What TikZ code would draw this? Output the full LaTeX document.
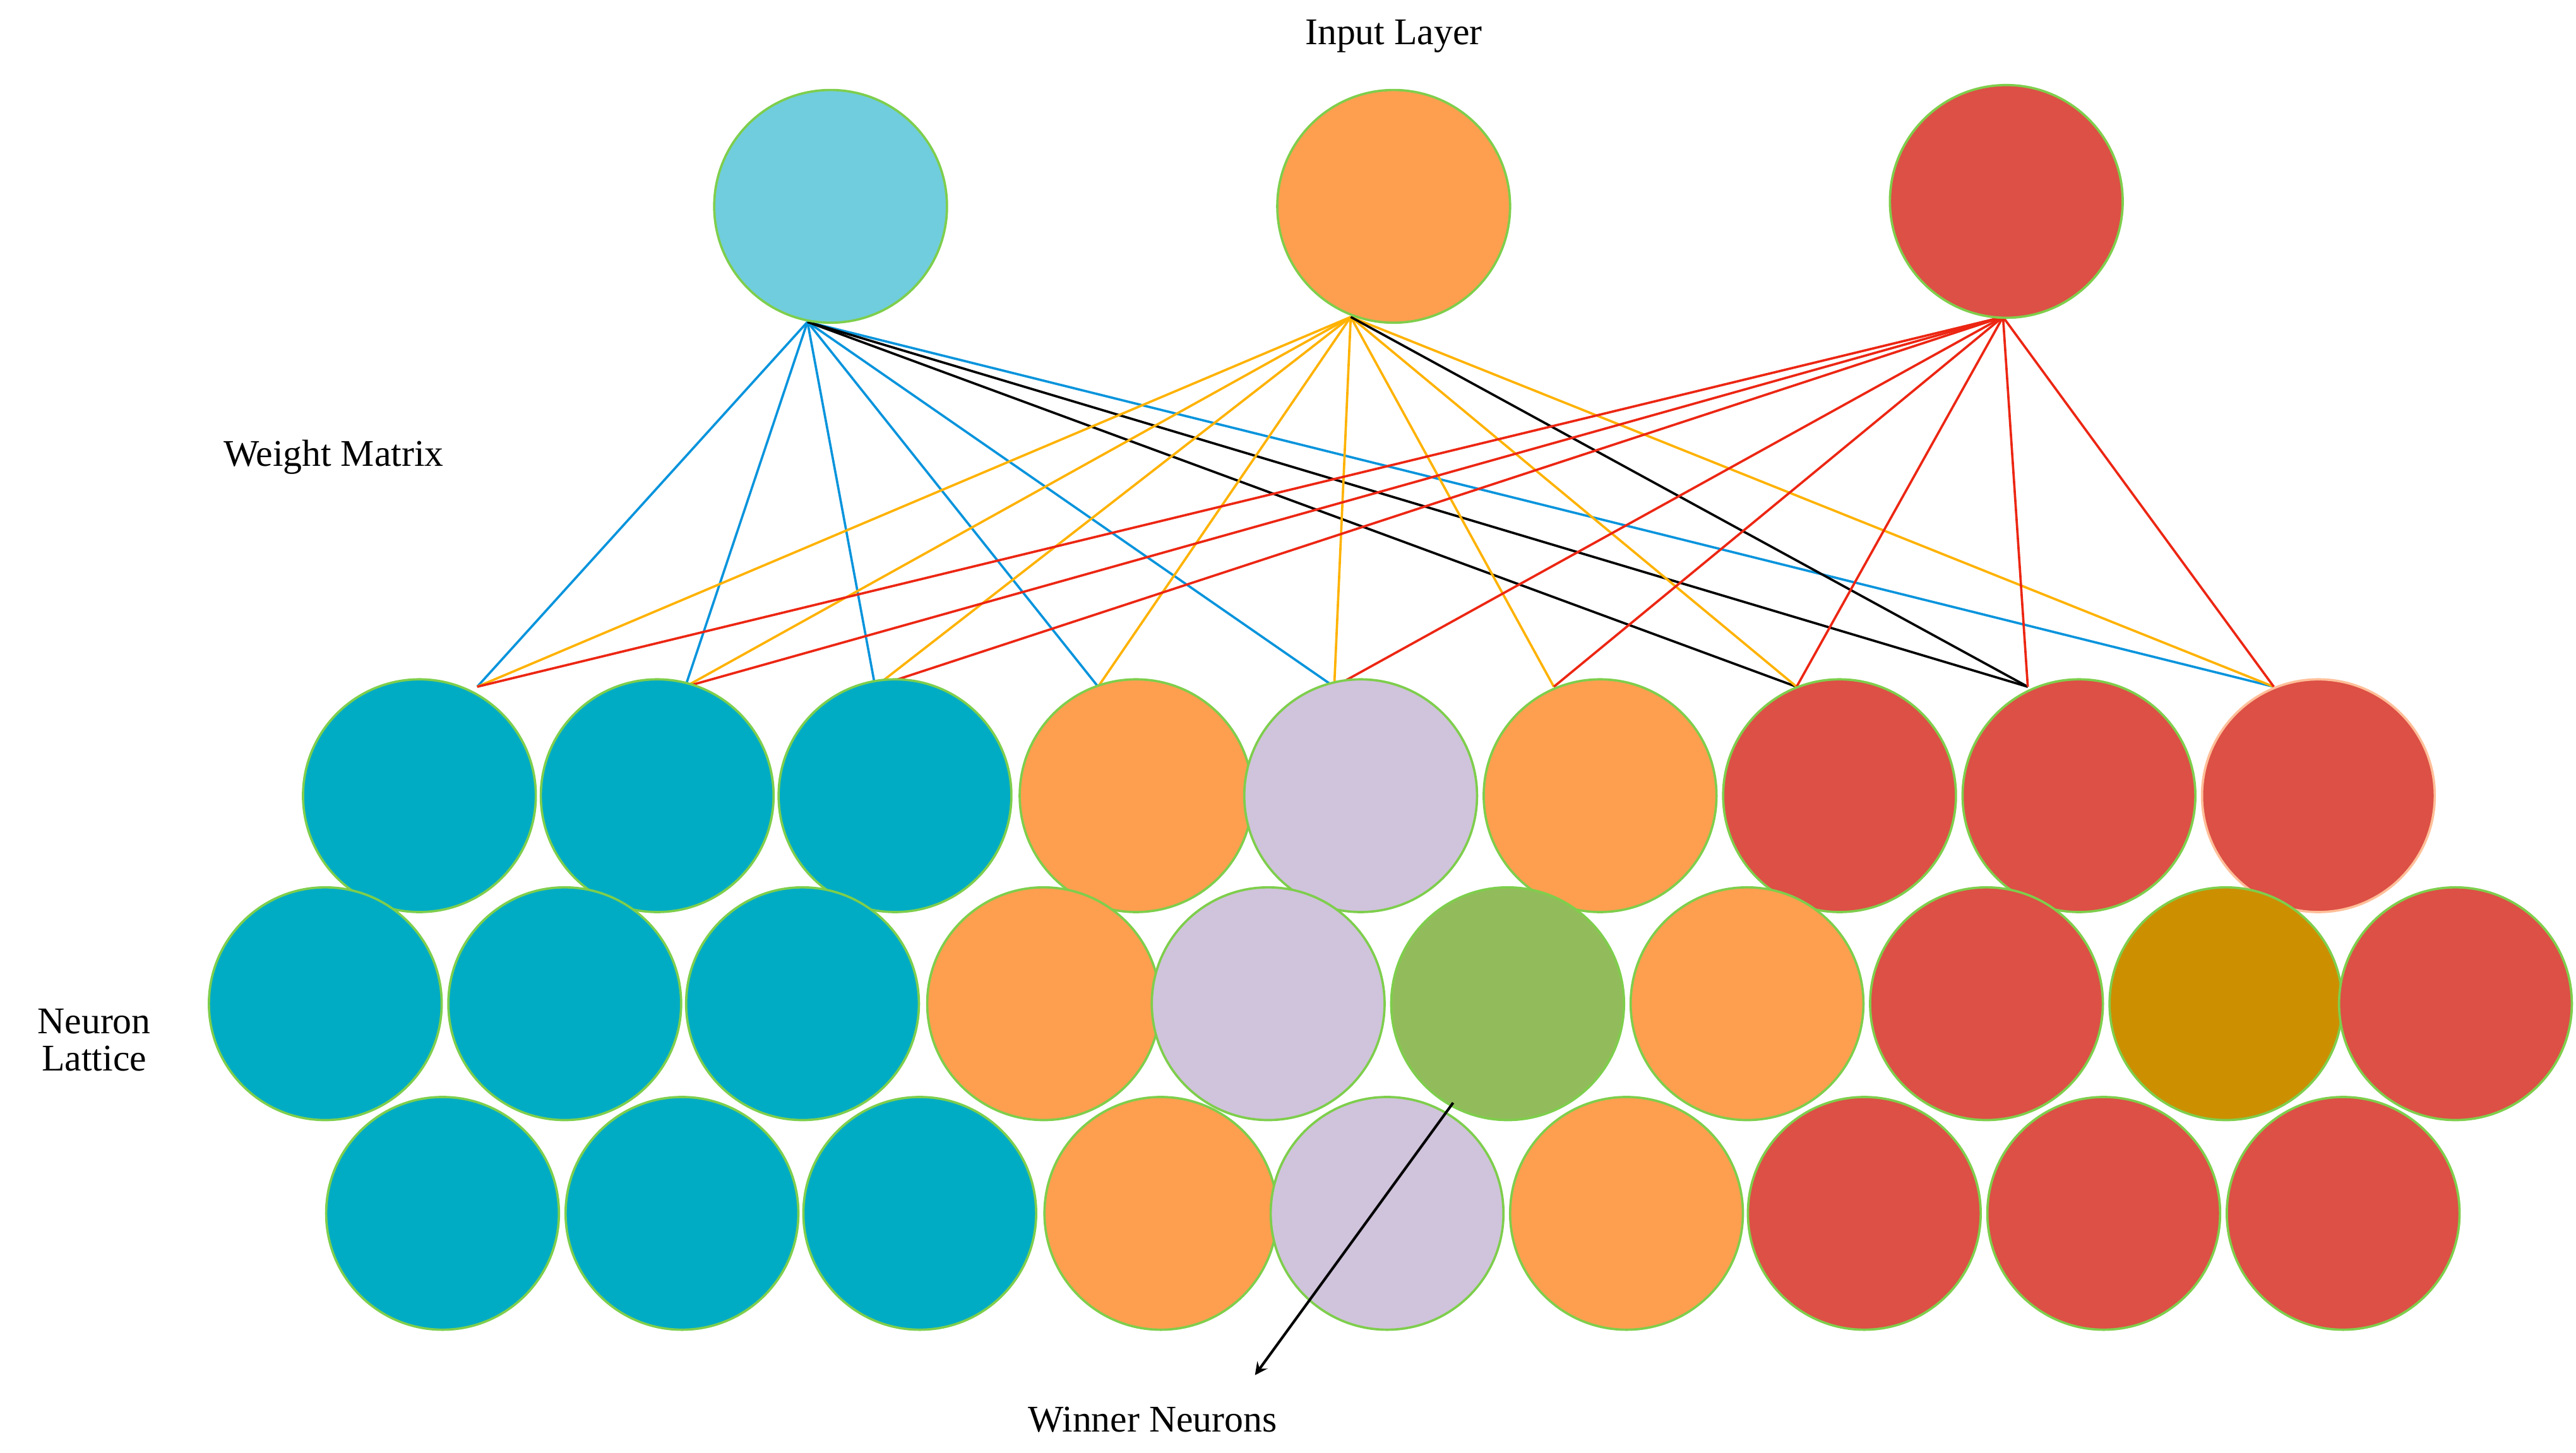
\documentclass[tikz,border=0pt]{standalone}
\usepackage{fontspec}
\setmainfont{Liberation Serif}
\begin{document}
\begin{tikzpicture}[x=0.02cm,y=-0.02cm,
  neu/.style={circle,draw=green!45!olive!70,line width=0.8pt,minimum size=2.82cm,inner sep=0pt},
  lbl/.style={font=\fontsize{13}{15}\selectfont,align=center},
  wb/.style={draw=cyan!80!blue,line width=0.8pt},
  wo/.style={draw=orange!60!yellow,line width=0.8pt},
  wr/.style={draw=red!70!brown,line width=0.8pt},
  wk/.style={draw=black,line width=0.8pt}]
\definecolor{cin}{HTML}{70CDDD}
\definecolor{cte}{HTML}{00ACC4}
\definecolor{cor}{HTML}{FD9F4F}
\definecolor{cre}{HTML}{DC5045}
\definecolor{cli}{HTML}{D0C3DC}
\definecolor{cgr}{HTML}{92BC5B}
\definecolor{cgo}{HTML}{CC8F00}
\useasboundingbox (0,0) rectangle (1560,880);
% sources
\coordinate (sb) at (489,195);
\coordinate (so) at (818,192);
\coordinate (sr) at (1213,192);
\foreach \i/\x in {1/289,2/415,3/530,4/665,5/808,6/941,7/1088,8/1228,9/1377}
  \coordinate (t\i) at (\x,416);
\foreach \i in {1,2,3,4,5,9} \draw[wb] (sb) -- (t\i);
\foreach \i in {7,8} \draw[wk] (sb) -- (t\i);
\foreach \i in {1,2,3,4,5,6,7,9} \draw[wo] (so) -- (t\i);
\draw[wk] (so) -- (t8);
\foreach \i in {1,2,3,5,6,7,8,9} \draw[wr] (sr) -- (t\i);
% input layer
\node[neu,fill=cin] (i1) at (503,125) {};
\node[neu,fill=cor] (i2) at (844,125) {};
\node[neu,fill=cre] (i3) at (1215,122) {};
% lattice
\foreach \x/\c [count=\k] in {254/cte,398/cte,542/cte,688/cor,824/cli,969/cor,1114/cre,1259/cre}
  \node[neu,fill=\c] (a\k) at (\x,482) {};
\node[neu,fill=cre,draw=red!25!orange!40] (a9) at (1404,482) {};
\foreach \x/\c [count=\k] in {197/cte,342/cte,486/cte,632/cor,768/cli,913/cgr,1058/cor,1203/cre,1348/cgo,1487/cre}
  \node[neu,fill=\c] (b\k) at (\x,608) {};
\foreach \x/\c [count=\k] in {268/cte,413/cte,557/cte,703/cor,840/cli,985/cor,1129/cre,1274/cre,1419/cre}
  \node[neu,fill=\c] (c\k) at (\x,735) {};
% labels
\node[lbl] (il) at (844,22) {Input Layer};
\node[lbl] (wm) at (202,277) {Weight Matrix};
\node[lbl] (nl) at (57,630) {Neuron\\[-2pt]Lattice};
\node[lbl] (wn) at (698,860) {Winner Neurons};
\coordinate (ws) at (880,668);
\coordinate (we) at (760,833);
\draw[-stealth,line width=0.9pt] (ws) -- (we);
\end{tikzpicture}
\end{document}
